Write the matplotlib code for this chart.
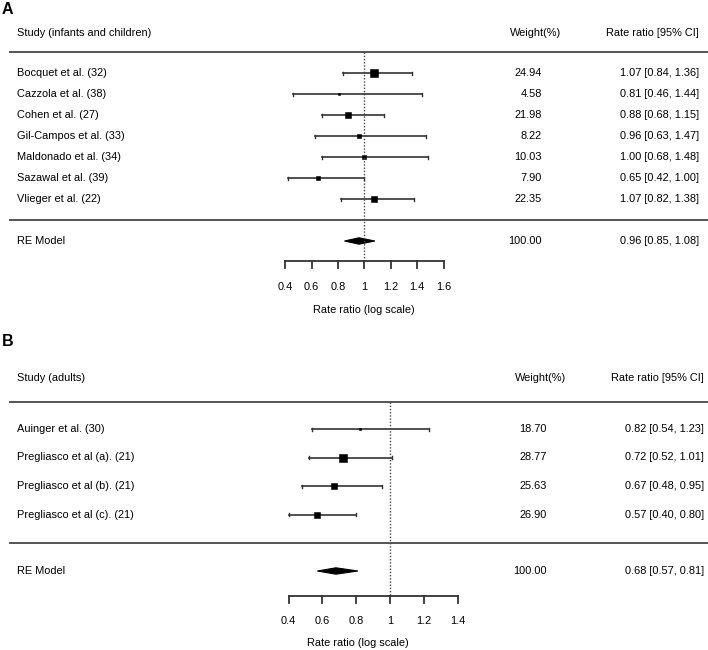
import matplotlib
matplotlib.use('Agg')
import matplotlib.pyplot as plt

plt.rcParams['font.family'] = ['Liberation Sans', 'DejaVu Sans']

# Panel A: infants and children
studies_a = ['Bocquet et al. (32)', 'Cazzola et al. (38)', 'Cohen et al. (27)', 'Gil-Campos et al. (33)',
             'Maldonado et al. (34)', 'Sazawal et al. (39)', 'Vlieger et al. (22)']
est_a = [1.07, 0.81, 0.88, 0.96, 1.00, 0.65, 1.07]
lo_a = [0.84, 0.46, 0.68, 0.63, 0.68, 0.42, 0.82]
hi_a = [1.36, 1.44, 1.15, 1.47, 1.48, 1.00, 1.38]
weight_a = [24.94, 4.58, 21.98, 8.22, 10.03, 7.90, 22.35]
re_a = [0.96, 0.85, 1.08]
ticks_a = [0.4, 0.6, 0.8, 1, 1.2, 1.4, 1.6]

# Panel B: adults
studies_b = ['Auinger et al. (30)', 'Pregliasco et al (a). (21)', 'Pregliasco et al (b). (21)',
             'Pregliasco et al (c). (21)']
est_b = [0.82, 0.72, 0.67, 0.57]
lo_b = [0.54, 0.52, 0.48, 0.40]
hi_b = [1.23, 1.01, 0.95, 0.80]
weight_b = [18.70, 28.77, 25.63, 26.90]
re_b = [0.68, 0.57, 0.81]
ticks_b = [0.4, 0.6, 0.8, 1, 1.2, 1.4]

W, H = 708, 650
fig = plt.figure(figsize=(W / 100, H / 100), dpi=100)

# background axes in pixel units for text and separators
bg = fig.add_axes([0, 0, 1, 1])
bg.set_xlim(0, W)
bg.set_ylim(H, 0)
bg.axis('off')

FS = 7.9
INK = '#333333'


def fmt_label(t):
    return '1' if t == 1 else f'{t:g}'


def panel(letter, letter_y, header, header_y, line1_y, studies, est, lo, hi, wts, re,
          row0, step, line2_y, re_y, axis_y, tick_y, xlab_x, xlab_y,
          x1_pix, scale, ticks, w_right, rr_right, wh_right):
    ax = fig.add_axes([0, 0, 1, 1])
    ax.patch.set_alpha(0)
    ax.axis('off')
    ax.set_xlim(1 - x1_pix / scale, 1 + (W - x1_pix) / scale)
    ax.set_ylim(H, 0)

    bg.text(2, letter_y, letter, fontsize=11.5, fontweight='bold', va='center', ha='left')
    bg.text(17, header_y, header, fontsize=FS, va='center')
    bg.text(wh_right, header_y, 'Weight(%)', fontsize=FS, va='center', ha='right')
    bg.text(rr_right, header_y, 'Rate ratio [95% CI]', fontsize=FS, va='center', ha='right')
    bg.plot([10, W], [line1_y, line1_y], color='#555555', lw=1.4)
    bg.plot([10, W], [line2_y, line2_y], color='#555555', lw=1.4)

    wmin, wmax = min(wts), max(wts)
    ys = [row0 + step * i for i in range(len(studies))]
    for name, e, l, h, w, y in zip(studies, est, lo, hi, wts, ys):
        bg.text(17, y, name, fontsize=FS, va='center')
        bg.text(w_right, y, f'{w:.2f}', fontsize=FS, va='center', ha='right')
        bg.text(rr_right, y, f'{e:.2f} [{l:.2f}, {h:.2f}]', fontsize=FS, va='center', ha='right')
        ax.plot([l, h], [y, y], color=INK, lw=1.2)
        ax.plot([l, l], [y - 1.5, y + 1.5], color=INK, lw=1.0)
        ax.plot([h, h], [y - 1.5, y + 1.5], color=INK, lw=1.0)
        side = 2.5 + (w - wmin) / (wmax - wmin) * 5
        ax.plot(e, y, marker='s', color='black', ms=side * 0.72, mew=0.4, mec='black')

    # summary diamond
    e, l, h = re
    bg.text(17, re_y, 'RE Model', fontsize=FS, va='center')
    bg.text(w_right, re_y, '100.00', fontsize=FS, va='center', ha='right')
    bg.text(rr_right, re_y, f'{e:.2f} [{l:.2f}, {h:.2f}]', fontsize=FS, va='center', ha='right')
    ax.fill([l, e, h, e], [re_y, re_y - 3.2, re_y, re_y + 3.2], color='black', lw=0.8, ec='black')

    # reference line at 1
    ax.plot([1, 1], [line1_y, axis_y], color='#444444', lw=1.0, ls=(0, (1, 1.3)))

    # x axis
    ax.plot([ticks[0], ticks[-1]], [axis_y, axis_y], color=INK, lw=1.3)
    for t in ticks:
        ax.plot([t, t], [axis_y, axis_y + 7], color=INK, lw=1.3)
        ax.text(t, tick_y, fmt_label(t), fontsize=FS, ha='center', va='center')
    bg.text(xlab_x, xlab_y, 'Rate ratio (log scale)', fontsize=FS, ha='center', va='center')


panel('A', 10, 'Study (infants and children)', 33, 52, studies_a, est_a, lo_a, hi_a, weight_a, re_a,
      73, 21, 220, 241, 261, 287, 364, 310,
      364.3, 132, ticks_a, 542, 699, 561)

panel('B', 341, 'Study (adults)', 378, 401.5, studies_b, est_b, lo_b, hi_b, weight_b, re_b,
      429, 28.5, 543, 571, 596, 621, 358, 643,
      390, 169, ticks_b, 547, 704, 566)

fig.savefig('out.png', dpi=100)
